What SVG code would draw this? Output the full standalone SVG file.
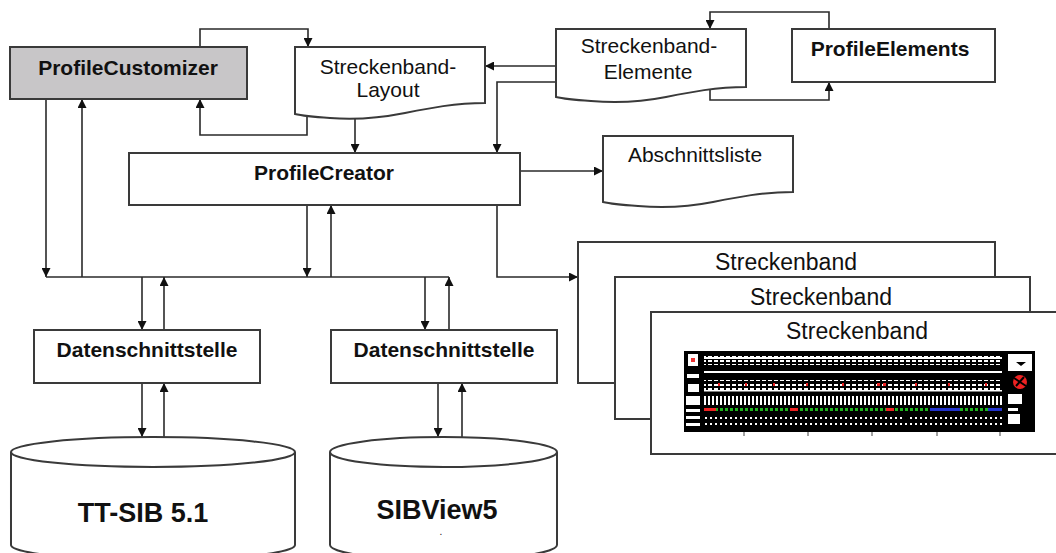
<svg xmlns="http://www.w3.org/2000/svg" width="1056" height="553" viewBox="0 0 1056 553">
<defs>
<style>
.box{fill:#fff;stroke:#3a3a3a;stroke-width:2}
.gray{fill:#c8c6c8}
.ln{fill:none;stroke:#2a2a2a;stroke-width:1.6}
.t{font-family:"Liberation Sans",Arial,sans-serif;font-size:21px;fill:#111;text-anchor:middle}
.b{font-weight:bold}
.db{font-size:27px}
.sb{font-size:23px}
</style>
<marker id="ah" markerUnits="userSpaceOnUse" markerWidth="10" markerHeight="9" refX="9" refY="4.5" orient="auto">
<path d="M0,0 L9,4.5 L0,9 z" fill="#111"/>
</marker>
<pattern id="dash1" width="6" height="4" patternUnits="userSpaceOnUse"><rect width="4" height="2" fill="#fff"/></pattern>
<pattern id="bars" width="4" height="8" patternUnits="userSpaceOnUse"><rect width="2" height="8" fill="#fff"/></pattern>
<pattern id="green" width="5" height="3" patternUnits="userSpaceOnUse"><rect width="3" height="3" fill="#1db31d"/></pattern>
<pattern id="dots" width="5" height="3" patternUnits="userSpaceOnUse"><rect width="2" height="2" fill="#fff"/></pattern>
</defs>

<g id="connectors" class="ln">
<path d="M200,47 V29 H308 V47" marker-end="url(#ah)"/>
<path d="M307,116 V135 H200 V99" marker-end="url(#ah)"/>
<path d="M355,118 V153" marker-end="url(#ah)"/>
<path d="M556,66 H485" marker-end="url(#ah)"/>
<path d="M556,82 H497 V153" marker-end="url(#ah)"/>
<path d="M829,29 V12 H710 V29" marker-end="url(#ah)"/>
<path d="M710,89 V100 H829 V82" marker-end="url(#ah)"/>
<path d="M520,171 H603" marker-end="url(#ah)"/>
<path d="M497,205 V277 H578" marker-end="url(#ah)"/>
<path d="M46,99 V277" marker-end="url(#ah)"/>
<path d="M82,277 V99" marker-end="url(#ah)"/>
<path d="M307,205 V277" marker-end="url(#ah)"/>
<path d="M331,277 V205" marker-end="url(#ah)"/>
<path d="M46,277 H449"/>
<path d="M142,277 V330" marker-end="url(#ah)"/>
<path d="M164,330 V277" marker-end="url(#ah)"/>
<path d="M425,277 V330" marker-end="url(#ah)"/>
<path d="M449,330 V277" marker-end="url(#ah)"/>
<path d="M142,383 V437" marker-end="url(#ah)"/>
<path d="M164,437 V383" marker-end="url(#ah)"/>
<path d="M438,383 V437" marker-end="url(#ah)"/>
<path d="M462,437 V383" marker-end="url(#ah)"/>
</g>

<g id="profileCustomizer">
<rect class="box gray" x="10" y="47" width="237" height="52"/>
<text class="t b" x="128" y="75">ProfileCustomizer</text>
</g>

<g id="streckenbandLayout">
<path class="box" d="M295,47 H485 V103 C455,103 430,108 405,113 C380,118 355,120 330,118 C315,117 303,116 295,114 Z"/>
<text class="t" x="388" y="74">Streckenband-</text>
<text class="t" x="388" y="97">Layout</text>
</g>

<g id="streckenbandElemente">
<path class="box" d="M556,29 H746 V87 C716,87 691,92 666,97 C641,102 616,103 591,101 C576,100 564,99 556,97 Z"/>
<text class="t" x="649" y="53">Streckenband-</text>
<text class="t" x="648" y="79">Elemente</text>
</g>

<g id="profileElements">
<rect class="box" x="792" y="29" width="203" height="53"/>
<text class="t b" x="890" y="56">ProfileElements</text>
</g>

<g id="profileCreator">
<rect class="box" x="129" y="153" width="391" height="52"/>
<text class="t b" x="324" y="180">ProfileCreator</text>
</g>

<g id="abschnittsliste">
<path class="box" d="M603,136 H793 V192 C763,192 738,197 713,202 C688,207 663,208 638,206 C623,205 611,204 603,202 Z"/>
<text class="t" x="695" y="162">Abschnittsliste</text>
</g>

<g id="datenschnittstelle1">
<rect class="box" x="34" y="330" width="226" height="53"/>
<text class="t b" x="147" y="357">Datenschnittstelle</text>
</g>

<g id="datenschnittstelle2">
<rect class="box" x="331" y="330" width="226" height="53"/>
<text class="t b" x="444" y="357">Datenschnittstelle</text>
</g>

<g id="ttsib">
<path class="box" d="M11,452 A142,15 0 0 1 295,452 V545 A142,15 0 0 1 11,545 Z"/>
<path class="box" d="M11,452 A142,15 0 0 0 295,452" fill="none"/>
<text class="t b db" x="143" y="522">TT-SIB 5.1</text>
</g>

<g id="sibview">
<path class="box" d="M330,452 A113.5,15 0 0 1 557,452 V545 A113.5,15 0 0 1 330,545 Z"/>
<path class="box" d="M330,452 A113.5,15 0 0 0 557,452" fill="none"/>
<text class="t b db" x="437" y="519">SIBView5</text>
<text class="t" x="441" y="535" style="font-size:10px">.</text>
</g>

<g id="streckenband1">
<rect class="box" x="578" y="242" width="417" height="141"/>
<text class="t sb" x="786" y="270">Streckenband</text>
</g>
<g id="streckenband2">
<rect class="box" x="615" y="277" width="415" height="142"/>
<text class="t sb" x="821" y="305">Streckenband</text>
</g>
<g id="streckenband3">
<rect class="box" x="651" y="312" width="410" height="142"/>
<text class="t sb" x="857" y="339">Streckenband</text>
<g id="thumbnail">
<rect x="684" y="351" width="351" height="81" fill="#000"/>
<rect x="688" y="354" width="10" height="12" fill="#fff"/>
<rect x="691" y="358" width="4" height="4" fill="#e33"/>
<rect x="687" y="374" width="12" height="4" fill="#fff"/>
<rect x="688" y="384" width="11" height="8" fill="#fff"/>
<rect x="686" y="396" width="14" height="9" fill="#fff"/>
<rect x="686" y="409" width="14" height="3" fill="#fff"/>
<rect x="686" y="416" width="14" height="3" fill="#fff"/>
<rect x="686" y="423" width="14" height="3" fill="#fff"/>
<rect x="704" y="356" width="298" height="9" fill="url(#dash1)"/>
<rect x="704" y="357" width="298" height="2" fill="#fff"/>
<rect x="704" y="371" width="298" height="2" fill="#fff"/>
<rect x="704" y="378" width="298" height="3" fill="url(#dash1)"/>
<rect x="704" y="384" width="298" height="8" fill="url(#dash1)"/>
<rect x="704" y="390" width="298" height="1.5" fill="#fff"/>
<g fill="#e22">
<rect x="718" y="383" width="2" height="3"/><rect x="745" y="383" width="2" height="3"/><rect x="773" y="383" width="2" height="3"/><rect x="806" y="383" width="2" height="3"/><rect x="842" y="383" width="2" height="3"/><rect x="877" y="383" width="3" height="3"/><rect x="883" y="383" width="3" height="3"/><rect x="915" y="383" width="2" height="3"/><rect x="948" y="383" width="2" height="3"/><rect x="985" y="383" width="2" height="3"/>
</g>
<rect x="704" y="396" width="298" height="9" fill="url(#bars)"/>
<rect x="704" y="408" width="298" height="3" fill="url(#green)"/>
<rect x="704" y="408" width="12" height="3" fill="#e22"/>
<rect x="790" y="408" width="8" height="3" fill="#e22"/>
<rect x="886" y="408" width="8" height="3" fill="#e22"/>
<rect x="930" y="408" width="30" height="3" fill="#2233cc"/>
<rect x="988" y="408" width="14" height="3" fill="#2233cc"/>
<rect x="704" y="416" width="200" height="3" fill="url(#dots)"/>
<rect x="910" y="416" width="92" height="3" fill="url(#dots)"/>
<rect x="704" y="423" width="298" height="2" fill="url(#dots)"/>
<rect x="1008" y="354" width="24" height="17" fill="#fff"/>
<path d="M1016,362 H1026 L1021,366 Z" fill="#000"/>
<circle cx="1020" cy="382" r="7" fill="#e22"/>
<path d="M1014,378 L1026,386 M1016,386 L1024,377" stroke="#000" stroke-width="2"/>
<rect x="1008" y="394" width="14" height="10" fill="#fff"/>
<rect x="1008" y="408" width="10" height="3" fill="#fff"/>
<rect x="1008" y="414" width="12" height="10" fill="#fff"/>
<g stroke="#444" stroke-width="1">
<path d="M744,432 V436 M808,432 V436 M872,432 V436 M937,432 V436 M1000,432 V436"/>
</g>
</g>
</g>
</svg>
